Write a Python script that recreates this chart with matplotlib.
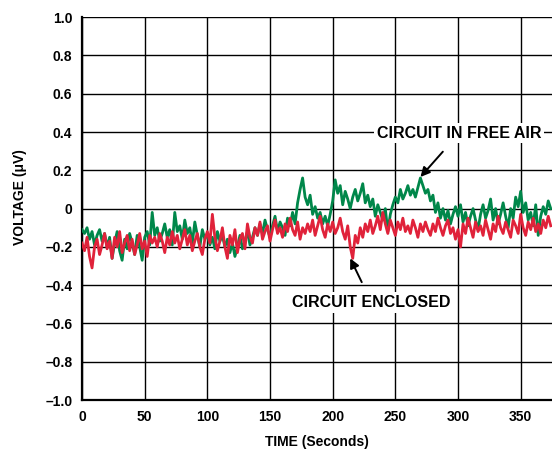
import numpy as np
import matplotlib.pyplot as plt

plt.rcParams['font.family'] = ['Liberation Sans', 'DejaVu Sans']
plt.rcParams['font.weight'] = 'bold'
plt.rcParams['axes.labelweight'] = 'bold'

# Time base: one sample every 2 seconds
time_s = np.arange(0, 376, 2)

# Output noise, circuit open to free air (uV)
free_air = [
    -0.11, -0.13, -0.10, -0.16, -0.12, -0.19, -0.14, -0.11, -0.17, -0.13,
    -0.20, -0.15, -0.26, -0.18, -0.12, -0.22, -0.27, -0.16, -0.21, -0.13,
    -0.18, -0.24, -0.14, -0.20, -0.27, -0.15, -0.12, -0.19, -0.02, -0.14,
    -0.10, -0.17, -0.13, -0.08, -0.15, -0.11, -0.19, -0.02, -0.12, -0.09,
    -0.16, -0.06, -0.13, -0.10, -0.18, -0.07, -0.14, -0.20, -0.11, -0.16,
    -0.13, -0.19, -0.15, -0.21, -0.12, -0.17, -0.14, -0.20, -0.16, -0.23,
    -0.18, -0.25, -0.20, -0.14, -0.21, -0.17, -0.12, -0.19, -0.15, -0.10,
    -0.14, -0.08, -0.13, -0.06, -0.11, -0.15, -0.09, -0.04, -0.12, -0.07,
    -0.10, -0.14, -0.05, -0.09, -0.02, -0.08, 0.03, 0.10, 0.16, 0.06,
    0.02, 0.07, -0.03, 0.01, -0.05, -0.02, -0.08, -0.04, -0.09, -0.03,
    0.04, 0.15, 0.08, 0.12, 0.02, 0.09, 0.05, 0.00, 0.06, 0.10,
    0.04, 0.08, 0.13, 0.03, 0.07, 0.01, 0.05, -0.04, 0.02, -0.02,
    -0.06, 0.00, -0.12, -0.03, 0.02, 0.06, 0.03, 0.10, 0.05, 0.08,
    0.12, 0.07, 0.10, 0.06, 0.11, 0.16, 0.12, 0.08, 0.10, 0.04,
    0.07, -0.02, 0.03, -0.05, 0.00, -0.06, -0.01, -0.08, -0.03, 0.01,
    -0.04, 0.02, -0.07, -0.02, -0.09, -0.04, 0.00, -0.06, -0.11, -0.03,
    0.02, -0.05, -0.01, 0.05, -0.06, 0.00, -0.08, -0.03, 0.03, -0.04,
    -0.10, 0.00, -0.05, 0.06, 0.01, 0.09, -0.02, 0.03, -0.06, -0.02,
    -0.09, 0.02, -0.14, -0.04, 0.01, -0.03, 0.04, 0.00,
]

# Output noise, circuit enclosed (uV)
enclosed = [
    -0.18, -0.22, -0.15, -0.25, -0.31, -0.20, -0.16, -0.24, -0.19, -0.13,
    -0.21, -0.17, -0.26, -0.15, -0.20, -0.12, -0.23, -0.18, -0.14, -0.22,
    -0.16, -0.24, -0.19, -0.13, -0.21, -0.17, -0.25, -0.14, -0.18, -0.15,
    -0.20, -0.13, -0.17, -0.23, -0.15, -0.19, -0.12, -0.18, -0.14, -0.21,
    -0.16, -0.11, -0.19, -0.14, -0.22, -0.17, -0.13, -0.20, -0.24, -0.16,
    -0.12, -0.18, -0.03, -0.15, -0.22, -0.17, -0.10, -0.20, -0.26, -0.14,
    -0.19, -0.11, -0.23, -0.16, -0.13, -0.21, -0.08, -0.15, -0.18, -0.10,
    -0.14, -0.07, -0.16, -0.12, -0.09, -0.17, -0.11, -0.06, -0.13, -0.10,
    -0.15, -0.08, -0.12, -0.05, -0.11, -0.14, -0.07, -0.16, -0.10, -0.13,
    -0.08, -0.12, -0.06, -0.14, -0.09, -0.04, -0.11, -0.15, -0.08, -0.12,
    -0.07, -0.13, -0.10, -0.05, -0.12, -0.16, -0.09, -0.20, -0.26, -0.14,
    -0.18, -0.10, -0.15, -0.08, -0.12, -0.06, -0.13, -0.09, -0.04, -0.11,
    -0.02, -0.08, -0.13, -0.06, -0.10, -0.14, -0.07, -0.11, -0.05, -0.12,
    -0.09, -0.13, -0.06, -0.10, -0.15, -0.08, -0.12, -0.07, -0.11, -0.14,
    -0.08, -0.12, -0.05, -0.10, -0.14, -0.09, -0.06, -0.13, -0.10, -0.16,
    -0.11, -0.20, -0.08, -0.13, -0.05, -0.10, -0.15, -0.07, -0.12, -0.09,
    -0.14, -0.06, -0.11, -0.16, -0.08, -0.12, -0.04, -0.10, -0.13, -0.07,
    -0.11, -0.15, -0.06, -0.09, -0.13, -0.03, -0.10, -0.14, -0.07, -0.11,
    -0.05, -0.12, -0.08, -0.13, -0.06, -0.10, -0.04, -0.09,
]

y_ticks = [-1.0, -0.8, -0.6, -0.4, -0.2, 0.0, 0.2, 0.4, 0.6, 0.8, 1.0]
y_tick_labels = ['\u20131.0', '\u20130.8', '\u20130.6', '\u20130.4', '\u20130.2', '0',
                 '0.2', '0.4', '0.6', '0.8', '1.0']
x_ticks = [0, 50, 100, 150, 200, 250, 300, 350]

fig = plt.figure(figsize=(5.52, 4.51), dpi=100)
ax = fig.add_axes([0.1486, 0.113, 0.8514, 0.849])

ax.plot(time_s, free_air, color='#00874A', lw=2.0, zorder=3)
ax.plot(time_s, enclosed, color='#E0223A', lw=2.0, zorder=4)

ax.set_xlim(0, 375)
ax.set_ylim(-1.0, 1.0)
ax.set_xticks(x_ticks)
ax.set_yticks(y_ticks)
ax.set_yticklabels(y_tick_labels)
ax.tick_params(length=0, labelsize=10, pad=7)
ax.grid(True, color='black', lw=1.0, zorder=1)
ax.set_axisbelow(True)

for side in ['top', 'right']:
    ax.spines[side].set_visible(False)
for side in ['left', 'bottom']:
    ax.spines[side].set_linewidth(1.6)

ax.set_xlabel('TIME (Seconds)', fontsize=10, labelpad=8)
ax.set_ylabel('VOLTAGE (\u03bcV)', fontsize=10)
ax.yaxis.set_label_coords(-0.118, 0.53)

box = dict(fc='white', ec='none', pad=2)
ax.annotate('CIRCUIT IN FREE AIR', xy=(270, 0.165), xytext=(301, 0.394),
            ha='center', va='center', fontsize=11.5, fontweight='bold',
            bbox=box, zorder=6,
            arrowprops=dict(arrowstyle='-|>', color='black', lw=1.4,
                            mutation_scale=14, shrinkA=8, shrinkB=0))
ax.annotate('CIRCUIT ENCLOSED', xy=(214, -0.26), xytext=(231, -0.49),
            ha='center', va='center', fontsize=11.5, fontweight='bold',
            bbox=box, zorder=6,
            arrowprops=dict(arrowstyle='-|>', color='black', lw=1.4,
                            mutation_scale=14, shrinkA=8, shrinkB=0))

fig.savefig('out.png', dpi=100)
